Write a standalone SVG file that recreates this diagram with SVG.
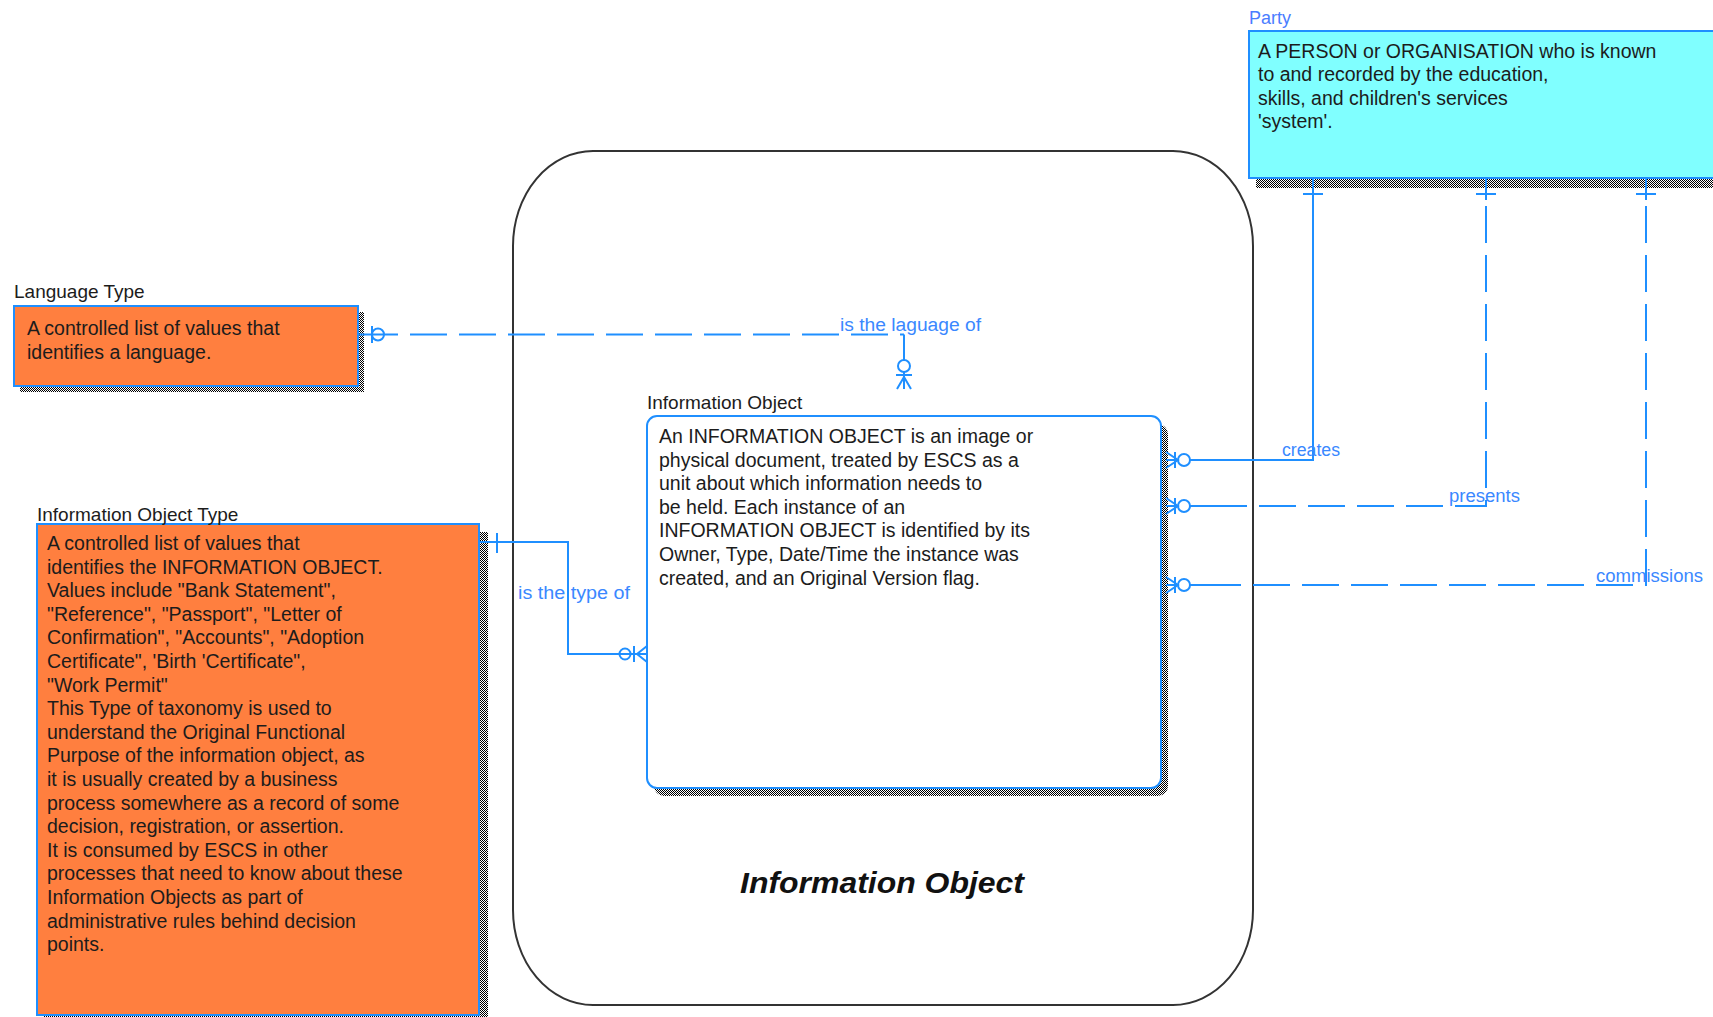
<svg xmlns="http://www.w3.org/2000/svg" width="1713" height="1017" viewBox="0 0 1713 1017">
<defs>
<pattern id="dither" width="2" height="2" patternUnits="userSpaceOnUse">
<rect width="2" height="2" fill="#ffffff"/>
<rect width="1" height="1" fill="#000000"/>
<rect x="1" y="1" width="1" height="1" fill="#000000"/>
</pattern>
<style>
.body{font-family:"Liberation Sans",Arial,sans-serif;font-size:19.5px;fill:#1c1c1c}
.title{font-family:"Liberation Sans",Arial,sans-serif;font-size:19px;fill:#1c1c1c}
.lbl{font-family:"Liberation Sans",Arial,sans-serif;font-size:18px;fill:#3a88ff}
.ent{stroke:#1f8fff;stroke-width:2}
.orange{fill:#ff7f3f}
.cyan{fill:#80ffff}
.shadow{fill:url(#dither)}
.conn{stroke:#1f8fff;stroke-width:2;fill:none}
.dash{stroke-dasharray:37 12}
.pkg{fill:#ffffff;stroke:#333333;stroke-width:2}
</style>
</defs>
<rect width="1713" height="1017" fill="#ffffff"/>

<g id="package-information-object">
<rect class="pkg" x="513" y="151" width="740" height="854" rx="80" ry="95"/>
<text x="740" y="893" font-family="'Liberation Sans',Arial,sans-serif" font-size="29" font-weight="bold" font-style="italic" fill="#111" textLength="284" lengthAdjust="spacingAndGlyphs">Information Object</text>
</g>

<g id="node-language-type">
<rect class="shadow" x="20" y="312" width="344" height="80"/>
<rect class="ent orange" x="14" y="306" width="344" height="80"/>
<text class="title" x="14" y="298">Language Type</text>
<text class="body" x="27" y="335">A controlled list of values that</text>
<text class="body" x="27" y="358.6">identifies a language.</text>
</g>

<g id="node-information-object-type">
<rect class="shadow" x="44" y="532" width="444" height="500"/>
<rect class="ent orange" x="37" y="524" width="442" height="491"/>
<text class="title" x="37" y="521">Information Object Type</text>
<text class="body" x="47" y="550">A controlled list of values that</text>
<text class="body" x="47" y="573.6">identifies the INFORMATION OBJECT.</text>
<text class="body" x="47" y="597.2">Values include "Bank Statement",</text>
<text class="body" x="47" y="620.8">"Reference", "Passport", "Letter of</text>
<text class="body" x="47" y="644.4">Confirmation", "Accounts", "Adoption</text>
<text class="body" x="47" y="668">Certificate", 'Birth 'Certificate",</text>
<text class="body" x="47" y="691.6">"Work Permit"</text>
<text class="body" x="47" y="715.2">This Type of taxonomy is used to</text>
<text class="body" x="47" y="738.8">understand the Original Functional</text>
<text class="body" x="47" y="762.4">Purpose of the information object, as</text>
<text class="body" x="47" y="786">it is usually created by a business</text>
<text class="body" x="47" y="809.6">process somewhere as a record of some</text>
<text class="body" x="47" y="833.2">decision, registration, or assertion.</text>
<text class="body" x="47" y="856.8">It is consumed by ESCS in other</text>
<text class="body" x="47" y="880.4">processes that need to know about these</text>
<text class="body" x="47" y="904">Information Objects as part of</text>
<text class="body" x="47" y="927.6">administrative rules behind decision</text>
<text class="body" x="47" y="951.2">points.</text>
</g>

<g id="node-information-object">
<rect class="shadow" x="654" y="424" width="514" height="372" rx="10"/>
<rect class="ent" fill="#ffffff" x="647" y="416" width="514" height="372" rx="10"/>
<text class="title" x="647" y="409">Information Object</text>
<text class="body" x="659" y="443">An INFORMATION OBJECT is an image or</text>
<text class="body" x="659" y="466.6">physical document, treated by ESCS as a</text>
<text class="body" x="659" y="490.2">unit about which information needs to</text>
<text class="body" x="659" y="513.8">be held. Each instance of an</text>
<text class="body" x="659" y="537.4">INFORMATION OBJECT is identified by its</text>
<text class="body" x="659" y="561">Owner, Type, Date/Time the instance was</text>
<text class="body" x="659" y="584.6">created, and an Original Version flag.</text>
</g>

<g id="node-party">
<rect class="shadow" x="1256" y="38" width="470" height="150"/>
<rect class="ent cyan" x="1249" y="31" width="470" height="147"/>
<text x="1249" y="24" font-family="'Liberation Sans',Arial,sans-serif" font-size="18" fill="#4a7dff">Party</text>
<text class="body" x="1258" y="57.5">A PERSON or ORGANISATION who is known</text>
<text class="body" x="1258" y="81">to and recorded by the education,</text>
<text class="body" x="1258" y="104.7">skills, and children's services</text>
<text class="body" x="1258" y="128.3">'system'.</text>
</g>

<g id="connectors">
<g id="conn-language">
<line class="conn" x1="358" y1="334.5" x2="398" y2="334.5"/>
<path class="conn dash" d="M410,334.5 H904"/>
<line class="conn" x1="904" y1="334.5" x2="904" y2="360"/>
<line class="conn" x1="372" y1="326" x2="372" y2="343"/>
<circle class="conn" cx="378" cy="334.5" r="6"/>
<circle class="conn" cx="904" cy="366" r="6"/>
<line class="conn" x1="896" y1="375" x2="912" y2="375"/>
<line class="conn" x1="904" y1="372" x2="904" y2="389"/>
<path class="conn" d="M897,389 L904,377 L911,389"/>
<text class="lbl" x="840" y="331" textLength="141" lengthAdjust="spacingAndGlyphs">is the laguage of</text>
</g>
<g id="conn-type">
<path class="conn" d="M479,542 H568 V654 H647"/>
<line class="conn" x1="497" y1="533" x2="497" y2="553"/>
<circle class="conn" cx="625" cy="654" r="5.5"/>
<line class="conn" x1="634" y1="646" x2="634" y2="662"/>
<path class="conn" d="M647,646 L637,654 L647,662"/>
<text class="lbl" x="518" y="599" textLength="112" lengthAdjust="spacingAndGlyphs">is the type of</text>
</g>
<g id="conn-creates">
<path class="conn" d="M1313,178 V460 H1190"/>
<line class="conn" x1="1303" y1="194" x2="1323" y2="194"/>
<circle class="conn" cx="1184" cy="460" r="6"/>
<line class="conn" x1="1175" y1="452" x2="1175" y2="468"/>
<path class="conn" d="M1166,452 L1178,460 L1166,468 M1166,460 H1178"/>
<text class="lbl" x="1282" y="456" textLength="58" lengthAdjust="spacingAndGlyphs">creates</text>
</g>
<g id="conn-presents">
<line class="conn" x1="1486" y1="178" x2="1486" y2="200"/>
<path class="conn dash" d="M1486,206 V506 H1212"/>
<line class="conn" x1="1190" y1="506" x2="1212" y2="506"/>
<line class="conn" x1="1476" y1="194" x2="1496" y2="194"/>
<circle class="conn" cx="1184" cy="506" r="6"/>
<line class="conn" x1="1175" y1="498" x2="1175" y2="514"/>
<path class="conn" d="M1166,498 L1178,506 L1166,514 M1166,506 H1178"/>
<text class="lbl" x="1449" y="502" textLength="71" lengthAdjust="spacingAndGlyphs">presents</text>
</g>
<g id="conn-commissions">
<line class="conn" x1="1646" y1="178" x2="1646" y2="200"/>
<path class="conn dash" d="M1646,206 V585 H1212"/>
<line class="conn" x1="1190" y1="585" x2="1212" y2="585"/>
<line class="conn" x1="1636" y1="194" x2="1656" y2="194"/>
<circle class="conn" cx="1184" cy="585" r="6"/>
<line class="conn" x1="1175" y1="577" x2="1175" y2="593"/>
<path class="conn" d="M1166,577 L1178,585 L1166,593 M1166,585 H1178"/>
<text class="lbl" x="1596" y="582" textLength="107" lengthAdjust="spacingAndGlyphs">commissions</text>
</g>
</g>
</svg>
